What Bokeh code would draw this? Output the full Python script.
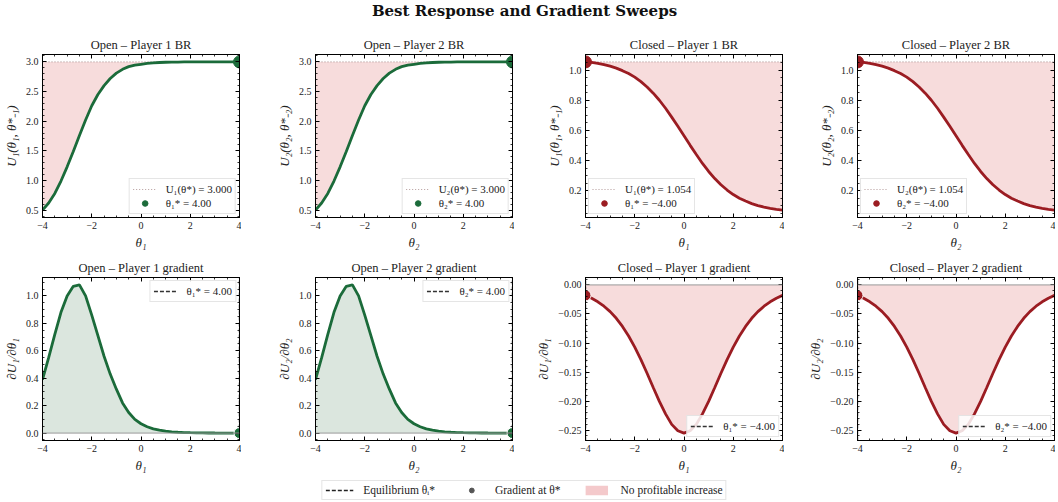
from bokeh.plotting import figure
from bokeh.layouts import column, row
from bokeh.models import (Range1d, SingleIntervalTicker, LinearAxis, CustomJSTickFormatter,
                          Legend, LegendItem, Span)
from bokeh.embed import file_html
from bokeh.resources import INLINE
from bokeh.core.properties import value

# ---------------- data ----------------
theta = [-4.0, -3.75, -3.5, -3.25, -3.0, -2.75, -2.5, -2.25, -2.0, -1.75, -1.5, -1.25,
         -1.0, -0.75, -0.5, -0.25, 0.0, 0.25, 0.5, 0.75, 1.0, 1.25, 1.5, 1.75, 2.0,
         2.25, 2.5, 2.75, 3.0, 3.25, 3.5, 3.75, 4.0]

open_br = [0.50, 0.62, 0.78, 0.99, 1.23, 1.49, 1.76, 2.02, 2.26, 2.45, 2.60, 2.72,
           2.81, 2.875, 2.92, 2.945, 2.96, 2.975, 2.985, 2.99, 2.994, 2.996, 2.998,
           2.999, 2.999, 3.0, 3.0, 3.0, 3.0, 3.0, 3.0, 3.0, 3.0]
open_grad = [0.39, 0.55, 0.72, 0.88, 1.00, 1.07, 1.08, 1.00, 0.86, 0.71, 0.56, 0.43,
             0.32, 0.22, 0.15, 0.10, 0.068, 0.046, 0.031, 0.021, 0.014, 0.009, 0.006,
             0.004, 0.0027, 0.0018, 0.0012, 0.0008, 0.0005, 0.0003, 0.0002, 0.0001, 0.0001]
closed_br = [1.054, 1.051, 1.044, 1.036, 1.026, 1.013, 0.996, 0.977, 0.953, 0.923, 0.888,
             0.847, 0.800, 0.747, 0.688, 0.627, 0.564, 0.501, 0.440, 0.381, 0.328, 0.281,
             0.240, 0.205, 0.175, 0.151, 0.132, 0.115, 0.102, 0.092, 0.084, 0.077, 0.072]
closed_grad = [-0.018, -0.023, -0.029, -0.0367, -0.046, -0.0575, -0.0715, -0.088, -0.107,
               -0.1286, -0.152, -0.1766, -0.2005, -0.222, -0.240, -0.251, -0.255, -0.251,
               -0.240, -0.222, -0.2005, -0.1766, -0.152, -0.1286, -0.107, -0.088, -0.0715,
               -0.0575, -0.046, -0.0367, -0.029, -0.023, -0.018]

u_star = {"Open": 3.000, "Closed": 1.054}
theta_star = {"Open": 4.00, "Closed": -4.00}
grad_star = {"Open": 0.0001, "Closed": -0.018}

settings = ["Open", "Closed"]
players = [1, 2]
suptitle = "Best Response and Gradient Sweeps"
legend_labels = ["Equilibrium θᵢ*", "Gradient at θ*", "No profitable increase"]

# ---------------- style ----------------
GREEN = "#1b6b3a"
RED = "#9b1c22"
PINK = "#f7dcdc"
GFILL = "#dbe6de"
SERIF = "Liberation Serif"
SUB = {1: "₁", 2: "₂"}

FW, FH = 197, 163
left_b = [35, 74, 71, 73]
right_b = [2, 2, 2, 1]
top_b = [34, 25]
bot_b = [33, 32]


def fmt(dec):
    return CustomJSTickFormatter(args=dict(d=dec), code="""
        let v = Math.abs(tick) < 1e-9 ? 0 : tick;
        return v.toFixed(d).replace('-', '\u2212');
    """)


def style_axis(ax):
    ax.axis_line_color = "black"
    ax.major_tick_in = 4
    ax.major_tick_out = 0
    ax.minor_tick_in = 2
    ax.minor_tick_out = 0
    ax.major_tick_line_color = "black"
    ax.minor_tick_line_color = "black"
    ax.minor_tick_line_width = 0.8
    ax.major_label_text_font = SERIF
    ax.major_label_text_font_size = "10px"
    ax.major_label_text_color = "#222222"
    ax.axis_label_text_font = SERIF
    ax.axis_label_text_font_size = "13px"
    ax.axis_label_text_font_style = "italic"
    ax.axis_label_text_color = "#222222"


def panel(kind, setting, pl, ci, ri):
    if kind == "BR":
        y = open_br if setting == "Open" else closed_br
        extra = [u_star[setting]]
        ystep, yminor, ydec = (0.5, 5, 1) if setting == "Open" else (0.2, 4, 1)
    else:
        y = open_grad if setting == "Open" else closed_grad
        extra = [0.0]
        ystep, yminor, ydec = (0.2, 4, 1) if setting == "Open" else (0.05, 5, 2)
    lo = min(y + extra)
    hi = max(y + extra)
    pad = 0.05 * (hi - lo)
    lo, hi = lo - pad, hi + pad

    color = GREEN if setting == "Open" else RED
    p = figure(frame_width=FW, frame_height=FH, x_range=Range1d(theta[0], theta[-1]),
               y_range=Range1d(lo, hi), output_backend="svg", toolbar_location=None,
               x_axis_type=None, y_axis_type=None,
               min_border_left=left_b[ci], min_border_right=right_b[ci],
               min_border_top=top_b[ri], min_border_bottom=bot_b[ri])
    p.outline_line_color = "black"
    p.background_fill_color = "white"
    p.border_fill_color = "white"
    ttl = f"{setting} – Player {pl} " + ("BR" if kind == "BR" else "gradient")
    p.title.text = ttl
    p.title.align = "center"
    p.title.text_font = SERIF
    p.title.text_font_size = "12.5px"
    p.title.text_font_style = "normal"
    p.title.text_color = "#222222"
    p.title.standoff = 5

    xt = SingleIntervalTicker(interval=2, num_minor_ticks=4)
    yt = SingleIntervalTicker(interval=ystep, num_minor_ticks=yminor)
    s = SUB[pl]
    xa = LinearAxis(ticker=xt, formatter=fmt(0), axis_label=f"θ{s}",
                    major_label_standoff=4, axis_label_standoff=3)
    if kind == "BR":
        ylab = f"U{s}(θ{s}, θ*₋{s})"
    else:
        ylab = f"∂U{s}/∂θ{s}"
    ya = LinearAxis(ticker=yt, formatter=fmt(ydec), axis_label=ylab,
                    major_label_standoff=4, axis_label_standoff=4)
    style_axis(xa)
    style_axis(ya)
    p.add_layout(xa, "below")
    p.add_layout(ya, "left")
    # mirrored tick marks (no labels) on top and right
    for t, side in ((xt, "above"), (yt, "right")):
        a = LinearAxis(ticker=t, major_label_standoff=0, axis_label=None)
        style_axis(a)
        a.major_label_text_font_size = "0px"
        a.major_label_text_color = None
        p.add_layout(a, side)

    n = len(theta)
    if kind == "BR":
        us = u_star[setting]
        p.varea(x=theta, y1=y, y2=[us] * n, fill_color=PINK, fill_alpha=1.0)
        dl = p.line(x=theta, y=[us] * n, line_color="#b49a9a", line_dash="1 2", line_width=1.2)
        p.line(x=theta, y=y, line_color=color, line_width=2.8)
        dot = p.scatter(x=[theta_star[setting]], y=[us], size=12, fill_color=color,
                        line_color=color)
        items = [LegendItem(label=f"U{s}(θ*) = {us:.3f}", renderers=[dl]),
                 LegendItem(label=f"θ{s}* = {theta_star[setting]:.2f}".replace("-", "−"),
                            renderers=[dot])]
        loc = "bottom_right" if setting == "Open" else "bottom_left"
    else:
        fill = GFILL if setting == "Open" else PINK
        p.varea(x=theta, y1=y, y2=[0.0] * n, fill_color=fill, fill_alpha=1.0)
        p.add_layout(Span(location=0.0, dimension="width", line_color="#999999", line_width=1))
        p.line(x=theta, y=y, line_color=color, line_width=2.8)
        ts = theta_star[setting]
        dl = p.line(x=[ts, ts], y=[lo, hi], line_color="#333333", line_dash="4 2", line_width=1.4)
        p.scatter(x=[ts], y=[grad_star[setting]], size=11, fill_color=color,
                  line_color="white", line_width=1)
        items = [LegendItem(label=f"θ{s}* = {ts:.2f}".replace("-", "−"), renderers=[dl])]
        loc = "top_right" if setting == "Open" else "bottom_right"

    lg = Legend(items=items, location=loc)
    lg.label_text_font = SERIF
    lg.label_text_font_size = "11px"
    lg.label_text_color = "#222222"
    lg.border_line_color = "#cccccc"
    lg.background_fill_alpha = 0.85
    lg.padding = 3
    lg.spacing = 0
    lg.margin = 3
    lg.glyph_width = 24
    lg.glyph_height = 14
    lg.label_height = 14
    lg.label_standoff = 9
    p.add_layout(lg)
    return p


rows = []
for ri, kind in enumerate(["BR", "grad"]):
    figs = []
    ci = 0
    for setting in settings:
        for pl in players:
            figs.append(panel(kind, setting, pl, ci, ri))
            ci += 1
    rows.append(row(*figs, spacing=0))

TOTAL_W = sum(left_b) + sum(right_b) + 4 * FW

top = figure(width=TOTAL_W, height=20, x_range=Range1d(0, 1), y_range=Range1d(0, 1),
             output_backend="svg", toolbar_location=None, x_axis_type=None,
             y_axis_type=None, min_border=0)
top.outline_line_color = None
top.grid.visible = False
top.text(x=[0.5], y=[0.5], text=[suptitle], text_align="center", text_baseline="middle",
         text_font=value("DejaVu Serif"), text_font_size="15px", text_font_style="bold",
         text_color="#111111")

bot = figure(width=TOTAL_W, height=30, x_range=Range1d(0, 1), y_range=Range1d(0, 1),
             output_backend="svg", toolbar_location=None, x_axis_type=None,
             y_axis_type=None, min_border=0)
bot.outline_line_color = None
bot.grid.visible = False
# legend-only renderers, kept outside the visible range
off = [5.0, 6.0]
r1 = bot.line(x=off, y=off, line_color="#222222", line_dash="4 2", line_width=1.5)
r2 = bot.scatter(x=off, y=off, size=7, fill_color="#555555", line_color="#555555")
r3 = bot.quad(left=[off[0]], right=[off[1]], top=[off[1]], bottom=[off[0]],
              fill_color="#f4c9cb", line_color=None)
blg = Legend(items=[LegendItem(label=legend_labels[0], renderers=[r1]),
                    LegendItem(label=legend_labels[1], renderers=[r2]),
                    LegendItem(label=legend_labels[2], renderers=[r3])],
             location="center", orientation="horizontal")
blg.label_text_font = SERIF
blg.label_text_font_size = "11.5px"
blg.label_text_color = "#222222"
blg.border_line_color = "#cccccc"
blg.padding = 3
blg.spacing = 22
blg.margin = 0
blg.glyph_width = 28
blg.glyph_height = 12
blg.label_standoff = 10
bot.add_layout(blg)

layout = column(top, rows[0], rows[1], bot, spacing=0)
open("out.html", "w").write(file_html(layout, INLINE))
